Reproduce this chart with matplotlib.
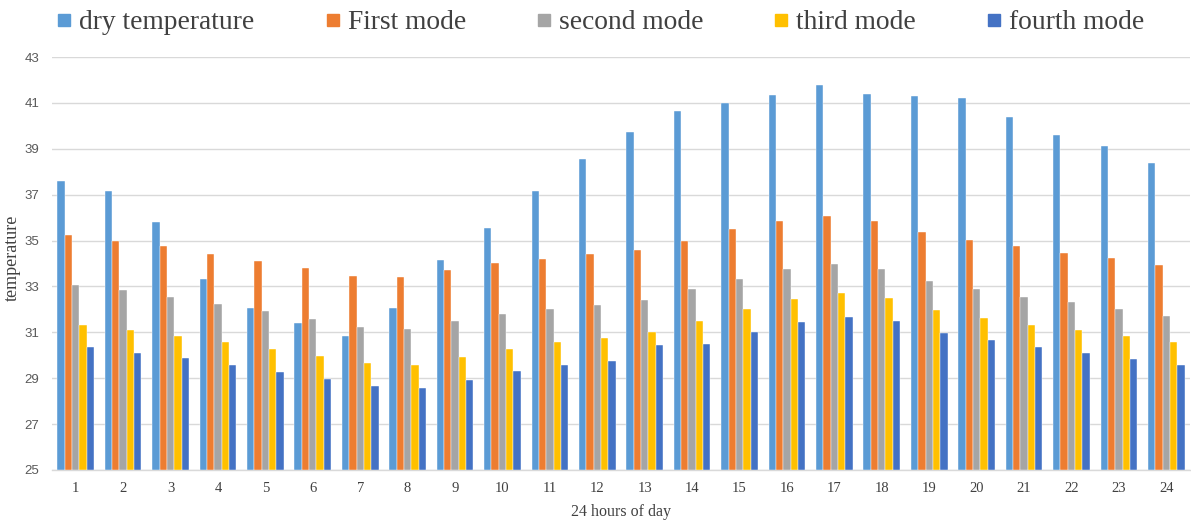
import matplotlib
matplotlib.use("Agg")
import matplotlib.pyplot as plt
import numpy as np
from matplotlib.lines import Line2D

hours = [str(h) for h in range(1, 25)]
series_names = ["dry temperature", "First mode", "second mode", "third mode", "fourth mode"]
dry = [37.61, 37.15, 35.82, 33.34, 32.06, 31.39, 30.86, 32.06, 34.15, 35.56, 37.15, 38.57,
       39.71, 40.64, 41.00, 41.35, 41.80, 41.39, 41.32, 41.22, 40.39, 39.61, 39.14, 38.40]
first = [35.23, 34.99, 34.76, 34.41, 34.12, 33.80, 33.47, 33.40, 33.70, 34.01, 34.21, 34.40,
         34.60, 35.00, 35.49, 35.87, 36.09, 35.87, 35.37, 35.02, 34.75, 34.47, 34.23, 33.92]
second = [33.08, 32.84, 32.56, 32.24, 31.93, 31.60, 31.22, 31.15, 31.48, 31.81, 32.00, 32.20,
          32.42, 32.87, 33.34, 33.75, 33.98, 33.78, 33.25, 32.90, 32.55, 32.31, 32.03, 31.71]
third = [31.31, 31.12, 30.86, 30.57, 30.27, 29.96, 29.65, 29.58, 29.92, 30.28, 30.57, 30.76,
         31.03, 31.51, 32.00, 32.47, 32.70, 32.51, 31.97, 31.64, 31.34, 31.11, 30.82, 30.56]
fourth = [30.34, 30.12, 29.86, 29.57, 29.29, 28.98, 28.65, 28.59, 28.93, 29.32, 29.56, 29.76,
          30.46, 30.48, 31.03, 31.47, 31.69, 31.50, 30.96, 30.65, 30.36, 30.08, 29.82, 29.56]
y_ticks = [25, 27, 29, 31, 33, 35, 37, 39, 41, 43]

colors = ["#5B9BD5", "#ED7D31", "#A5A5A5", "#FFC000", "#4472C4"]
all_series = [dry, first, second, third, fourth]

fig = plt.figure(figsize=(11.91, 5.2), dpi=100)
ax = fig.add_axes([52/1191, 1 - 470/520, (1190 - 52)/1191, (470 - 57)/520])

x = np.arange(len(hours))
bw = 0.155
for i, (vals, c) in enumerate(zip(all_series, colors)):
    offs = (i - 2) * bw
    ax.bar(x + offs, np.array(vals) - 25, bottom=25, width=bw, color=c,
           edgecolor="white", linewidth=0.3, zorder=3)

ax.set_xlim(-0.5, len(hours) - 0.5)
ax.set_ylim(25, 43)
ax.set_yticks(y_ticks)
ax.set_yticklabels([str(t) for t in y_ticks], fontfamily="Liberation Sans", fontsize=9.5, color="#595959")
ax.set_xticks(x)
ax.set_xticklabels(hours, fontfamily="Liberation Serif", fontsize=10.5, color="#404040")
ax.tick_params(axis="both", length=0)
ax.tick_params(axis="y", pad=9)
ax.tick_params(axis="x", pad=9)
ax.grid(axis="y", color="#D9D9D9", linewidth=1, zorder=0)
for s in ["top", "right", "left"]:
    ax.spines[s].set_visible(False)
ax.spines["bottom"].set_color("#D9D9D9")
ax.spines["bottom"].set_linewidth(1)

ax.set_xlabel("24 hours of day", fontfamily="Liberation Serif", fontsize=11.5, color="#404040", labelpad=6)
fig.text(12/1191, 1 - 258/520, "temperature", rotation=90, ha="center", va="center",
         fontfamily="Liberation Serif", fontsize=13, color="#404040")

handles = [Line2D([0], [0], marker="s", linestyle="none", markersize=8.8,
                  markerfacecolor=c, markeredgecolor=c) for c in colors]
fig.legend(handles, series_names, loc="upper center", bbox_to_anchor=(0.504, 1.028), ncol=5,
           frameon=False, prop={"family": "Liberation Serif", "size": 19.8},
           handlelength=0.6, handletextpad=0.245, columnspacing=2.54, labelcolor="#404040")

fig.savefig("out.png", dpi=100)
